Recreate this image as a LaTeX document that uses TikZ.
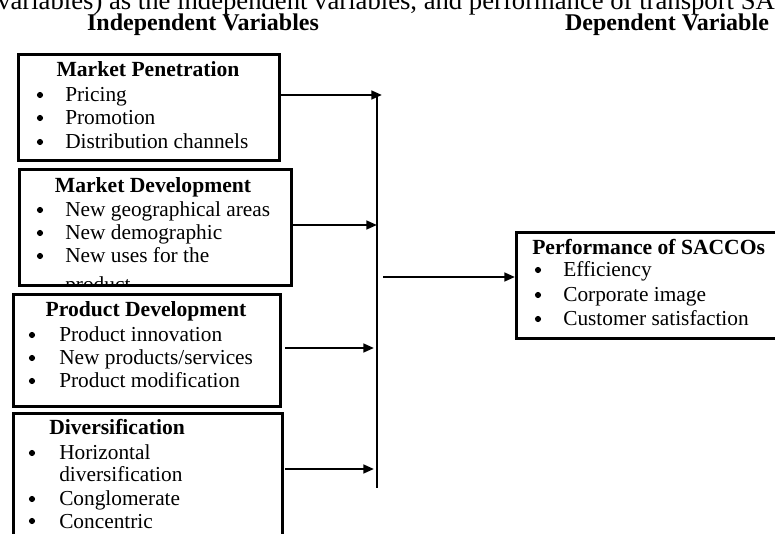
\documentclass[tikz,border=0pt]{standalone}
\usepackage{fontspec}
\setmainfont{Liberation Serif}
\usetikzlibrary{arrows.meta}

\tikzset{
  box/.style={draw, line width=2pt, anchor=north west, inner sep=0pt},
  txt/.style={anchor=base west, inner sep=0pt, font=\fontsize{16}{19}\selectfont},
  dot/.style={circle, fill, inner sep=0pt, minimum size=4.6pt},
  ttl/.style={inner sep=0pt, font=\fontsize{16.2}{19}\selectfont\bfseries},
  head/.style={anchor=base, inner sep=0pt, font=\fontsize{18}{20}\selectfont\bfseries},
  arr/.style={line width=1.8pt, -{Triangle[length=8pt,width=6.5pt]}},
  bus/.style={line width=1.8pt},
}

\begin{document}
\begin{tikzpicture}[x=0.75pt,y=-0.75pt]
  \path[use as bounding box, clip] (0,0) rectangle (775,534);

  % caption line and column heads
  \node[anchor=base west, inner sep=0pt, font=\fontsize{20}{22}\selectfont]
    (cap) at (-3,10) {variables) as the independent variables, and performance of transport SA};
  \node[head] (indep) at (203,31) {Independent Variables};
  \node[head] (dep) at (667,31) {Dependent Variable};

  % market penetration
  \node[box, minimum width=195.75pt, minimum height=79.5pt] (pen) at (17,53) {};
  \node[ttl, anchor=base] (pent) at (148,77) {Market Penetration};
  \foreach \y/\t in {102/Pricing, 125/Promotion, 149/Distribution channels} {
    \node[dot] (penb\y) at (40,\y-7) {};
    \node[txt] (pen\y) at (65,\y) {\t};
  }

  % market development (last line runs past the frame)
  \node[box, minimum width=204pt, minimum height=87pt] (dev) at (18,168) {};
  \node[ttl, anchor=base] (devt) at (153,193) {Market Development};
  \begin{scope}
    \clip (dev.north west) rectangle (dev.south east);
    \foreach \y/\t in {217/New geographical areas, 240/New demographic, 263/New uses for the} {
      \node[dot] (devb\y) at (40,\y-7) {};
      \node[txt] (dev\y) at (65,\y) {\t};
    }
    \node[txt] (dev292) at (65,292) {product};
  \end{scope}

  % product development
  \node[box, minimum width=200.25pt, minimum height=84pt] (pro) at (12,293) {};
  \node[ttl, anchor=base] (prot) at (146,317) {Product Development};
  \foreach \y/\t in {342/Product innovation, 365/{New products/services}, 388/Product modification} {
    \node[dot] (prob\y) at (32,\y-7) {};
    \node[txt] (pro\y) at (59,\y) {\t};
  }

  % diversification
  \node[box, minimum width=201.75pt, minimum height=111pt] (div) at (12,412) {};
  \node[ttl, anchor=base west] (divt) at (49,435) {Diversification};
  \foreach \y/\t in {460/Horizontal, 506/Conglomerate, 528/Concentric} {
    \node[dot] (divb\y) at (32,\y-7) {};
    \node[txt] (div\y) at (59,\y) {\t};
  }
  \node[txt] (div482) at (59,482) {diversification};

  % performance of saccos
  \node[box, minimum width=213.75pt, minimum height=79.5pt] (sac) at (515,231) {};
  \node[ttl, anchor=base west] (sact) at (532,255) {Performance of SACCOs};
  \foreach \y/\t in {277/Efficiency, 302/Corporate image, 326/Customer satisfaction} {
    \node[dot] (sacb\y) at (538,\y-7) {};
    \node[txt] (sac\y) at (563,\y) {\t};
  }

  % collecting line and arrows
  \coordinate (top) at (377,95);
  \coordinate (bot) at (377,488);
  \draw[bus] (top) -- (bot);
  \coordinate (j1) at (382,95);
  \coordinate (j2) at (377,225);
  \coordinate (j3) at (374,348);
  \coordinate (j4) at (374,469);
  \coordinate (s3) at (285,348);
  \coordinate (s4) at (285,469);
  \coordinate (m) at (383,277);
  \draw[arr] (pen.east |- j1) -- (j1);
  \draw[arr] (dev.east |- j2) -- (j2);
  \draw[arr] (s3) -- (j3);
  \draw[arr] (s4) -- (j4);
  \draw[arr] (m) -- (sac.west |- m);
\end{tikzpicture}
\end{document}
